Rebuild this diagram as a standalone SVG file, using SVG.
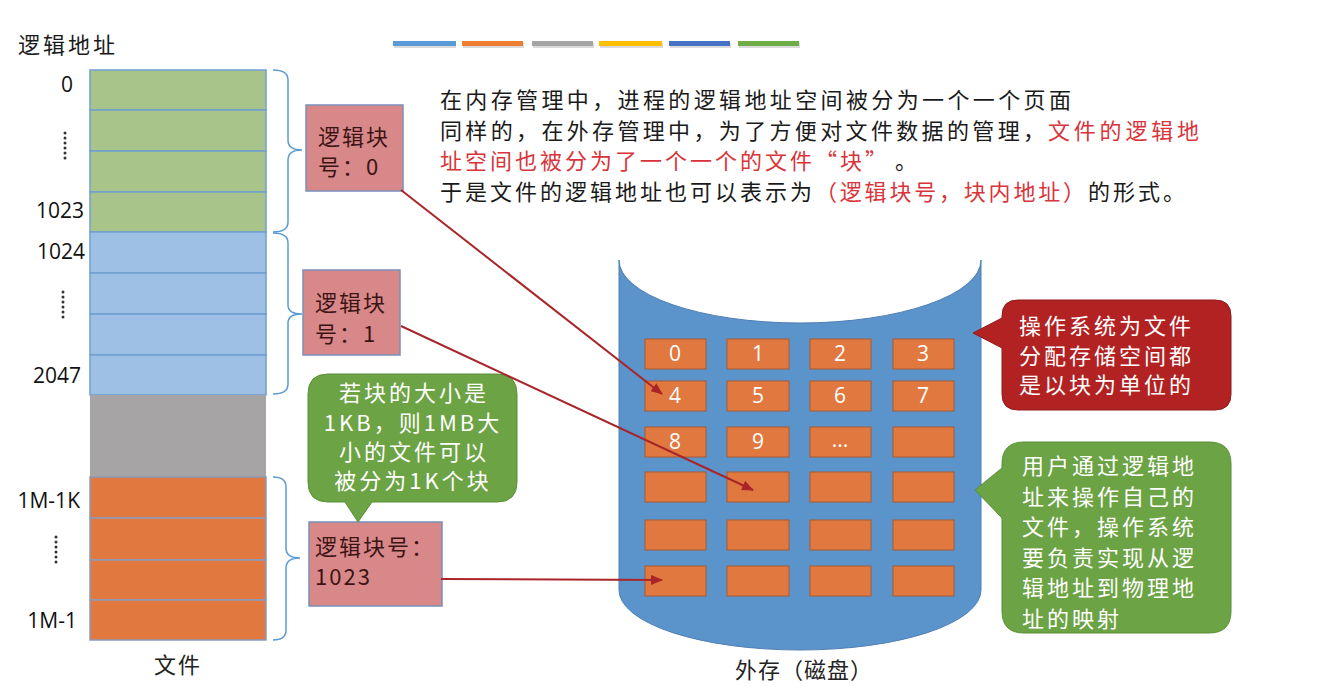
<svg xmlns="http://www.w3.org/2000/svg" width="1325" height="686" viewBox="0 0 1325 686">
<style>
.cjk{font-family:"Noto Sans CJK SC","Noto Sans",sans-serif;}
.num{font-family:"Open Sans","Noto Sans",sans-serif;font-size:21px;fill:#111;}
.top{font-family:"Noto Sans CJK SC",sans-serif;font-size:22px;letter-spacing:3px;fill:#1a1a1a;}
.red{fill:#d8343a;}
.brace{fill:none;stroke:#5b9bd5;stroke-width:1.5;}
.lb{fill:#d9888a;stroke:#7a8fb8;stroke-width:1.5;}
.lbt{font-family:"Noto Sans CJK SC",sans-serif;font-size:22px;letter-spacing:2px;fill:#3c1414;}
.blk{fill:#e07840;stroke:#a85a30;stroke-width:1;}
.blkt{font-family:"Open Sans",sans-serif;font-size:21px;fill:#fff;text-anchor:middle;}
.wt{font-family:"Noto Sans CJK SC",sans-serif;font-size:22px;letter-spacing:3px;fill:#fff;}
.conn{fill:none;stroke:#a8262a;stroke-width:2;marker-end:url(#ah);}
.dots{stroke:#333;stroke-width:3;stroke-linecap:round;stroke-dasharray:0 5;}
</style>
<defs>
<marker id="ah" markerWidth="12" markerHeight="10" refX="11" refY="5" orient="auto" markerUnits="userSpaceOnUse">
<path d="M0,0 L12,5 L0,10 Z" fill="#a8262a"/>
</marker>
</defs>
<rect width="1325" height="686" fill="#fff"/>

<g id="colorbars">
<rect x="394" y="43" width="62" height="5" fill="#999" opacity="0.35"/>
<rect x="463" y="43" width="61" height="5" fill="#999" opacity="0.35"/>
<rect x="533" y="43" width="61" height="5" fill="#999" opacity="0.35"/>
<rect x="600" y="43" width="63" height="5" fill="#999" opacity="0.35"/>
<rect x="670" y="43" width="61" height="5" fill="#999" opacity="0.35"/>
<rect x="739" y="43" width="61" height="5" fill="#999" opacity="0.35"/>
<rect x="393" y="41" width="63" height="5" fill="#5b9bd5"/>
<rect x="462" y="41" width="61" height="5" fill="#ed7d31"/>
<rect x="532" y="41" width="61" height="5" fill="#a5a5a5"/>
<rect x="599" y="41" width="63" height="5" fill="#ffc000"/>
<rect x="669" y="41" width="61" height="5" fill="#4472c4"/>
<rect x="738" y="41" width="61" height="5" fill="#70ad47"/>
</g>

<g id="title">
<text x="18" y="53" class="top">逻辑地址</text>
</g>

<g id="file-column">
<g fill="#a9c48a" stroke="#6f9fd0" stroke-width="1.5">
<rect x="90" y="70" width="176" height="40"/>
<rect x="90" y="110" width="176" height="41"/>
<rect x="90" y="151" width="176" height="41"/>
<rect x="90" y="192" width="176" height="40"/>
</g>
<g fill="#9dc0e4" stroke="#6f9fd0" stroke-width="1.5">
<rect x="90" y="232" width="176" height="41"/>
<rect x="90" y="273" width="176" height="41"/>
<rect x="90" y="314" width="176" height="41"/>
<rect x="90" y="355" width="176" height="40"/>
</g>
<rect x="90" y="395" width="176" height="82" fill="#a6a4a4"/>
<g fill="#e07840" stroke="#8a9ab8" stroke-width="1.5">
<rect x="90" y="477" width="176" height="41"/>
<rect x="90" y="518" width="176" height="42"/>
<rect x="90" y="560" width="176" height="40"/>
<rect x="90" y="600" width="176" height="40"/>
</g>
<text x="178" y="673" class="cjk" font-size="22" text-anchor="middle" fill="#222" letter-spacing="2">文件</text>
</g>

<g id="address-labels">
<text x="73" y="92" class="num" text-anchor="end">0</text>
<text x="84" y="218" class="num" text-anchor="end">1023</text>
<text x="85" y="259" class="num" text-anchor="end">1024</text>
<text x="81" y="383" class="num" text-anchor="end">2047</text>
<text x="80" y="508" class="num" text-anchor="end">1M-1K</text>
<text x="77" y="628" class="num" text-anchor="end">1M-1</text>
<line x1="65" y1="133" x2="65" y2="163" class="dots"/>
<line x1="63" y1="292" x2="63" y2="322" class="dots"/>
<line x1="56" y1="537" x2="56" y2="567" class="dots"/>
</g>

<g id="braces">
<path class="brace" d="M273,70 Q288,70 288,80 L288,140 Q288,150 302,150 Q288,150 288,160 L288,222 Q288,232 273,232"/>
<path class="brace" d="M273,233 Q288,233 288,243 L288,305 Q288,314 302,314 Q288,314 288,323 L288,384 Q288,394 273,394"/>
<path class="brace" d="M273,477 Q286,477 286,487 L286,548 Q286,558 300,558 Q286,558 286,568 L286,630 Q286,640 273,640"/>
</g>

<g id="description">
<text x="440" y="108" class="top" textLength="634">在内存管理中，进程的逻辑地址空间被分为一个一个页面</text>
<text x="440" y="139" class="top" textLength="608">同样的，在外存管理中，为了方便对文件数据的管理，</text>
<text x="1048" y="139" class="top red" textLength="154">文件的逻辑地</text>
<text x="440" y="169" class="top red">址空间也被分为了一个一个的文件“块”</text>
<text x="895" y="169" class="top">。</text>
<text x="440" y="200" class="top" textLength="375">于是文件的逻辑地址也可以表示为</text>
<text x="815" y="200" class="top red" textLength="273">（逻辑块号，块内地址）</text>
<text x="1088" y="200" class="top" textLength="100">的形式。</text>
</g>

<g id="logical-block-0">
<rect x="306" y="105" width="97" height="86" class="lb"/>
<text x="318" y="145" class="lbt">逻辑块</text>
<text x="318" y="175" class="lbt">号：0</text>
</g>
<g id="logical-block-1">
<rect x="303" y="270" width="97" height="85" class="lb"/>
<text x="315" y="311" class="lbt">逻辑块</text>
<text x="315" y="342" class="lbt">号：1</text>
</g>
<g id="logical-block-1023">
<rect x="309" y="522" width="133" height="84" class="lb"/>
<text x="315" y="555" class="lbt">逻辑块号：</text>
<text x="315" y="585" class="lbt" letter-spacing="0">1023</text>
</g>

<g id="callout-block-size">
<path d="M328,374 H497 Q517,374 517,394 V482 Q517,502 497,502 H372 L358,522 L345,502 H328 Q308,502 308,482 V394 Q308,374 328,374 Z" fill="#6ca344" stroke="#5a8f38" stroke-width="1"/>
<text x="414" y="401" class="wt" text-anchor="middle" letter-spacing="2">若块的大小是</text>
<text x="413" y="431" class="wt" text-anchor="middle" letter-spacing="0" font-size="23">1KB，则1MB大</text>
<text x="414" y="460" class="wt" text-anchor="middle" letter-spacing="2">小的文件可以</text>
<text x="413" y="489" class="wt" text-anchor="middle" letter-spacing="1">被分为1K个块</text>
</g>

<g id="disk">
<path d="M619,260 A181,63 0 0 0 981,260 L981,590 A181,60 0 0 1 619,590 Z" fill="#5b93cb" stroke="#4f7fb5" stroke-width="1"/>
<g id="disk-blocks">
<rect x="645" y="339" width="61" height="30" class="blk"/>
<rect x="727" y="339" width="62" height="30" class="blk"/>
<rect x="810" y="339" width="61" height="30" class="blk"/>
<rect x="893" y="339" width="61" height="30" class="blk"/>
<rect x="645" y="381" width="61" height="30" class="blk"/>
<rect x="727" y="381" width="62" height="30" class="blk"/>
<rect x="810" y="381" width="61" height="30" class="blk"/>
<rect x="893" y="381" width="61" height="30" class="blk"/>
<rect x="645" y="427" width="61" height="30" class="blk"/>
<rect x="727" y="427" width="62" height="30" class="blk"/>
<rect x="810" y="427" width="61" height="30" class="blk"/>
<rect x="893" y="427" width="61" height="30" class="blk"/>
<rect x="645" y="472" width="61" height="30" class="blk"/>
<rect x="727" y="472" width="62" height="30" class="blk"/>
<rect x="810" y="472" width="61" height="30" class="blk"/>
<rect x="893" y="472" width="61" height="30" class="blk"/>
<rect x="645" y="520" width="61" height="30" class="blk"/>
<rect x="727" y="520" width="62" height="30" class="blk"/>
<rect x="810" y="520" width="61" height="30" class="blk"/>
<rect x="893" y="520" width="61" height="30" class="blk"/>
<rect x="645" y="566" width="61" height="30" class="blk"/>
<rect x="727" y="566" width="62" height="30" class="blk"/>
<rect x="810" y="566" width="61" height="30" class="blk"/>
<rect x="893" y="566" width="61" height="30" class="blk"/>
<text x="675" y="361" class="blkt">0</text>
<text x="758" y="361" class="blkt">1</text>
<text x="840" y="361" class="blkt">2</text>
<text x="923" y="361" class="blkt">3</text>
<text x="675" y="403" class="blkt">4</text>
<text x="758" y="403" class="blkt">5</text>
<text x="840" y="403" class="blkt">6</text>
<text x="923" y="403" class="blkt">7</text>
<text x="675" y="449" class="blkt">8</text>
<text x="758" y="449" class="blkt">9</text>
<text x="840" y="447" class="blkt">...</text>
</g>
<text x="804" y="678" class="cjk" font-size="22" text-anchor="middle" fill="#222" letter-spacing="1">外存（磁盘）</text>
</g>

<g id="callout-allocation">
<path d="M1018,300 H1215 Q1231,300 1231,316 V394 Q1231,410 1215,410 H1018 Q1002,410 1002,394 V348 L973,333 L1002,318 V316 Q1002,300 1018,300 Z" fill="#b22222" stroke="#8f1a1a" stroke-width="1"/>
<text x="1019" y="334" class="wt">操作系统为文件</text>
<text x="1019" y="364" class="wt">分配存储空间都</text>
<text x="1019" y="393" class="wt">是以块为单位的</text>
</g>

<g id="callout-mapping">
<path d="M1024,442 H1209 Q1231,442 1231,464 V611 Q1231,633 1209,633 H1024 Q1002,633 1002,611 V518 L975,490 L1002,468 V464 Q1002,442 1024,442 Z" fill="#6ca344" stroke="#5a8f38" stroke-width="1"/>
<text x="1022" y="474" class="wt">用户通过逻辑地</text>
<text x="1022" y="505" class="wt">址来操作自己的</text>
<text x="1022" y="535" class="wt">文件，操作系统</text>
<text x="1022" y="566" class="wt">要负责实现从逻</text>
<text x="1022" y="596" class="wt">辑地址到物理地</text>
<text x="1022" y="627" class="wt">址的映射</text>
</g>

<g id="connectors">
<line x1="401" y1="190" x2="662" y2="394" class="conn"/>
<line x1="401" y1="326" x2="753" y2="490" class="conn"/>
<line x1="441" y1="579" x2="662" y2="580" class="conn"/>
</g>
</svg>
